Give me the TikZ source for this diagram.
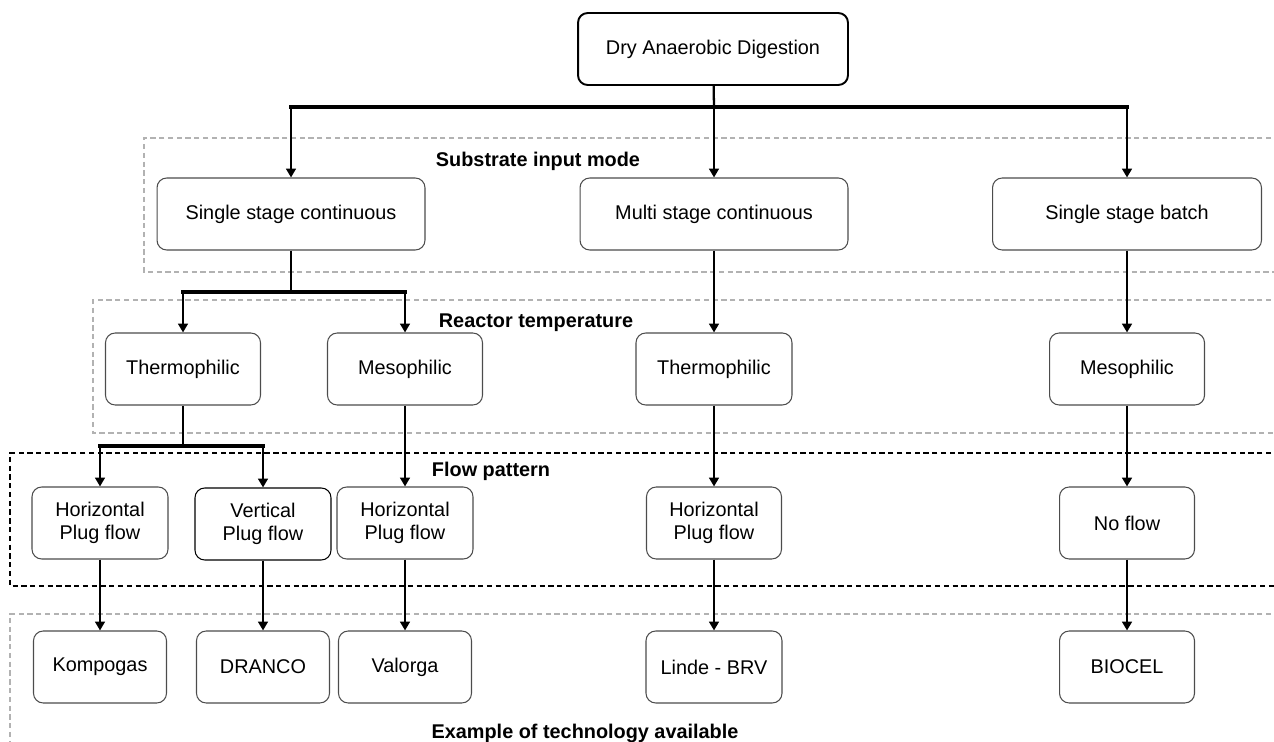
\documentclass[tikz,border=0pt]{standalone}
\usepackage{fontspec}
\setmainfont{Liberation Sans}
\usetikzlibrary{arrows.meta,positioning}

\tikzset{
  stagebox/.style={draw=black!70, line width=0.6pt, rounded corners=5.5pt, align=center,
    minimum height=1.44cm, inner sep=2pt, font=\fontsize{11.3}{13.5}\selectfont},
  rootbox/.style={stagebox, draw=black, line width=1.1pt},
  region/.style={draw=gray!60, line width=0.8pt, dash pattern=on 3pt off 2pt},
  regionlabel/.style={font=\bfseries\fontsize{11.3}{13.5}\selectfont},
  feed/.style={line width=1.5pt, -{Triangle[width=5.5pt,length=5pt]}},
  stem/.style={line width=1.3pt},
  busbar/.style={line width=2.4pt},
}

\begin{document}
\begin{tikzpicture}[x=0.02cm, y=-0.02cm]
\useasboundingbox (0,0) rectangle (1274,742);
% dashed regions (open to the right)
\draw[region] (1280,138) -- (144,138) -- (144,272) -- (1280,272);
\draw[region] (1280,300) -- (93,300) -- (93,433) -- (1280,433);
\draw[region, draw=black] (1280,453) -- (10,453) -- (10,586) -- (1280,586);
\draw[region] (1280,614) -- (10,614) -- (10,750);
% region labels
\node[regionlabel] (lblinput) at (538,161) {Substrate input mode};
\node[regionlabel] (lbltemp) at (536,323) {Reactor temperature};
\node[regionlabel] (lblflow) at (491,471) {Flow pattern};
\node[regionlabel] (lbltech) at (585,733) {Example of technology available};
% root
\node[rootbox, minimum width=5.4cm] (root) at (713,49) {Dry Anaerobic Digestion};
% substrate input mode
\node[stagebox, minimum width=5.36cm] (ssc) at (291,214) {Single stage continuous};
\node[stagebox, minimum width=5.36cm] (msc) at (714,214) {Multi stage continuous};
\node[stagebox, minimum width=5.38cm] (ssb) at (1127,214) {Single stage batch};
% reactor temperature
\node[stagebox, minimum width=3.1cm] (thermoA) at (183,369) {Thermophilic};
\node[stagebox, minimum width=3.1cm] (mesoA) at (405,369) {Mesophilic};
\node[stagebox, minimum width=3.12cm] (thermoB) at (714,369) {Thermophilic};
\node[stagebox, minimum width=3.1cm] (mesoB) at (1127,369) {Mesophilic};
% flow pattern
\node[stagebox, minimum width=2.72cm] (hpfA) at (100,523) {Horizontal\\Plug flow};
\node[stagebox, draw=black, minimum width=2.72cm] (vpf) at (263,524) {Vertical\\Plug flow};
\node[stagebox, minimum width=2.72cm] (hpfB) at (405,523) {Horizontal\\Plug flow};
\node[stagebox, minimum width=2.7cm] (hpfC) at (714,523) {Horizontal\\Plug flow};
\node[stagebox, minimum width=2.7cm] (noflow) at (1127,523) {No flow};
% example technologies
\node[stagebox, minimum width=2.66cm] (kompogas) at (100,667) {Kompogas};
\node[stagebox, minimum width=2.66cm] (dranco) at (263,667) {DRANCO};
\node[stagebox, minimum width=2.66cm] (valorga) at (405,667) {Valorga};
\node[stagebox, minimum width=2.72cm] (linde) at (714,667) {Linde - BRV};
\node[stagebox, minimum width=2.7cm] (biocel) at (1127,667) {BIOCEL};
% split points
\coordinate (rootsplit) at (714,107);
\coordinate (sscsplit) at (291,292);
\coordinate (thermosplit) at (183,446);
% root to input modes
\draw[stem] (root) -- (rootsplit);
\draw[busbar] ([xshift=-1pt]ssc |- rootsplit) -- ([xshift=1pt]ssb |- rootsplit);
\draw[feed] (ssc |- rootsplit) -- (ssc);
\draw[feed] (rootsplit) -- (msc);
\draw[feed] (ssb |- rootsplit) -- (ssb);
% single stage continuous branch
\draw[stem] (ssc) -- (sscsplit);
\draw[busbar] ([xshift=-1pt]thermoA |- sscsplit) -- ([xshift=1pt]mesoA |- sscsplit);
\draw[feed] (thermoA |- sscsplit) -- (thermoA);
\draw[feed] (mesoA |- sscsplit) -- (mesoA);
% thermophilic branch
\draw[stem] (thermoA) -- (thermosplit);
\draw[busbar] ([xshift=-1pt]hpfA |- thermosplit) -- ([xshift=1pt]vpf |- thermosplit);
\draw[feed] (hpfA |- thermosplit) -- (hpfA);
\draw[feed] (vpf |- thermosplit) -- (vpf);
% straight chains
\draw[feed] (mesoA) -- (hpfB);
\draw[feed] (msc) -- (thermoB);
\draw[feed] (thermoB) -- (hpfC);
\draw[feed] (ssb) -- (mesoB);
\draw[feed] (mesoB) -- (noflow);
\draw[feed] (hpfA) -- (kompogas);
\draw[feed] (vpf) -- (dranco);
\draw[feed] (hpfB) -- (valorga);
\draw[feed] (hpfC) -- (linde);
\draw[feed] (noflow) -- (biocel);
\end{tikzpicture}
\end{document}
